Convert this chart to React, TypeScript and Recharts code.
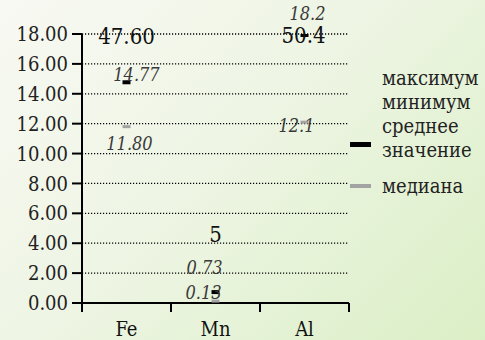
import React from 'react'
import {
  ComposedChart,
  Scatter,
  XAxis,
  YAxis,
  CartesianGrid,
  Legend,
  LabelList,
} from 'recharts'

const categories = ['Fe', 'Mn', 'Al']
const maxValues = [47.6, 5, 50.4]
const meanValues = [14.77, 0.73, 18.2]
const medianValues = [11.8, 0.13, 12.1]
const maxLabels = ['47.60', '5', '50.4']
const meanLabels = ['14.77', '0.73', '18.2']
const medianLabels = ['11.80', '0.13', '12.1']
const yTicks = [0, 2, 4, 6, 8, 10, 12, 14, 16, 18]

// label offsets (dx, dy) per category, as placed in the original
const maxLabelOffset = [[0, 2], [0, 6], [-1, 1]]
const meanLabelOffset = [[10, -8], [-11, -25], [3, -20]]
const medianLabelOffset = [[3, 17], [-12, -9], [-8, 3]]

const W = 485
const H = 340
const TOP = 34
const X_AXIS_H = 37
const AXIS_Y = H - X_AXIS_H
const FONT = 'DejaVu Serif Condensed, DejaVu Serif, serif'

const data = categories.map((name, i) => ({
  x: i + 0.5,
  name,
  max: maxValues[i],
  mean: meanValues[i],
  median: medianValues[i],
}))

function XTick(props: any) {
  const { x, payload } = props
  const v = payload.value as number
  if (Number.isInteger(v)) {
    return <line x1={x} x2={x} y1={AXIS_Y} y2={AXIS_Y + 9} stroke="#000" strokeWidth={2} />
  }
  return (
    <text x={x} y={AXIS_Y + 33} textAnchor="middle" fontFamily={FONT} fontSize={20} fill="#111">
      {categories[Math.floor(v)]}
    </text>
  )
}

function makeLabel(texts: string[], offsets: number[][], size: number, italic: boolean, color: string) {
  return (props: any) => {
    const { x, y, width, height, index } = props
    const cx = x + (width || 0) / 2
    let cy = y + (height || 0) / 2
    if (cy < TOP) cy = TOP
    const [dx, dy] = offsets[index]
    return (
      <text
        x={cx + dx}
        y={cy + dy + size * 0.36}
        textAnchor="middle"
        fontFamily={FONT}
        fontSize={size}
        fontStyle={italic ? 'italic' : 'normal'}
        fill={color}
      >
        {texts[index]}
      </text>
    )
  }
}

function Dash(color: string, w: number, h: number) {
  return (props: any) => {
    const { cx, cy } = props
    const y = Math.max(cy, TOP + 1)
    return <rect x={cx - w / 2} y={y - h / 2} width={w} height={h} fill={color} />
  }
}

const legendItems = [
  { label: 'максимум', color: '', gap: 0 },
  { label: 'минимум', color: '', gap: 0 },
  { label: 'среднее значение', color: '#000', gap: 0 },
  { label: 'медиана', color: '#a3a3a3', gap: 12 },
]

function LegendBox() {
  return (
    <div style={{ fontFamily: FONT, fontSize: 20, color: '#222', lineHeight: '24px' }}>
      {legendItems.map((it) => (
        <div key={it.label} style={{ display: 'flex', alignItems: 'center', marginTop: it.gap }}>
          <div style={{ width: 22, marginRight: 11, display: 'flex', justifyContent: 'center' }}>
            {it.color && (
              <div
                style={{
                  width: 21,
                  height: it.color === '#000' ? 5 : 4,
                  background: it.color,
                  transform: it.color === '#000' ? 'translateY(6px)' : undefined,
                }}
              />
            )}
          </div>
          <div style={{ width: 103 }}>{it.label}</div>
        </div>
      ))}
    </div>
  )
}

export default function App() {
  return (
    <div
      style={{
        position: 'absolute',
        left: 0,
        top: 0,
        width: W,
        height: H,
        background: 'linear-gradient(135deg, #f8f9f3 0%, #eef5e4 45%, #dbefc6 100%)',
      }}
    >
      <ComposedChart width={W} height={H} data={data} margin={{ top: TOP, right: 136, left: 0, bottom: 0 }}>
        <CartesianGrid vertical={false} stroke="#000" strokeDasharray="1.2 1.8" strokeWidth={1.3} />
        <XAxis
          type="number"
          dataKey="x"
          domain={[0, 3]}
          ticks={[0, 0.5, 1, 1.5, 2, 2.5, 3]}
          interval={0}
          height={X_AXIS_H}
          tickLine={false}
          tick={<XTick />}
          axisLine={{ stroke: '#000', strokeWidth: 2 }}
        />
        <YAxis
          type="number"
          domain={[0, 18]}
          ticks={yTicks}
          allowDataOverflow
          interval={0}
          width={82}
          tickSize={10}
          tickMargin={4}
          tickFormatter={(v: number) => v.toFixed(2)}
          tick={{ fontFamily: FONT, fontSize: 20, fill: '#222' }}
          tickLine={{ stroke: '#000', strokeWidth: 2 }}
          axisLine={{ stroke: '#000', strokeWidth: 2 }}
        />
        <Scatter dataKey="max" name="максимум" shape={() => <g />} isAnimationActive={false}>
          <LabelList dataKey="max" content={makeLabel(maxLabels, maxLabelOffset, 22, false, '#111')} />
        </Scatter>
        <Scatter dataKey="median" name="медиана" shape={Dash('#a3a3a3', 8, 3)} isAnimationActive={false}>
          <LabelList dataKey="median" content={makeLabel(medianLabels, medianLabelOffset, 18, true, '#3a3a3a')} />
        </Scatter>
        <Scatter dataKey="mean" name="среднее значение" shape={Dash('#000', 8, 4)} isAnimationActive={false}>
          <LabelList dataKey="mean" content={makeLabel(meanLabels, meanLabelOffset, 18, true, '#3a3a3a')} />
        </Scatter>
        <Legend
          layout="vertical"
          align="center"
          verticalAlign="middle"
          content={<LegendBox />}
          wrapperStyle={{ left: 349, top: 66, width: 136 }}
        />
      </ComposedChart>
    </div>
  )
}
